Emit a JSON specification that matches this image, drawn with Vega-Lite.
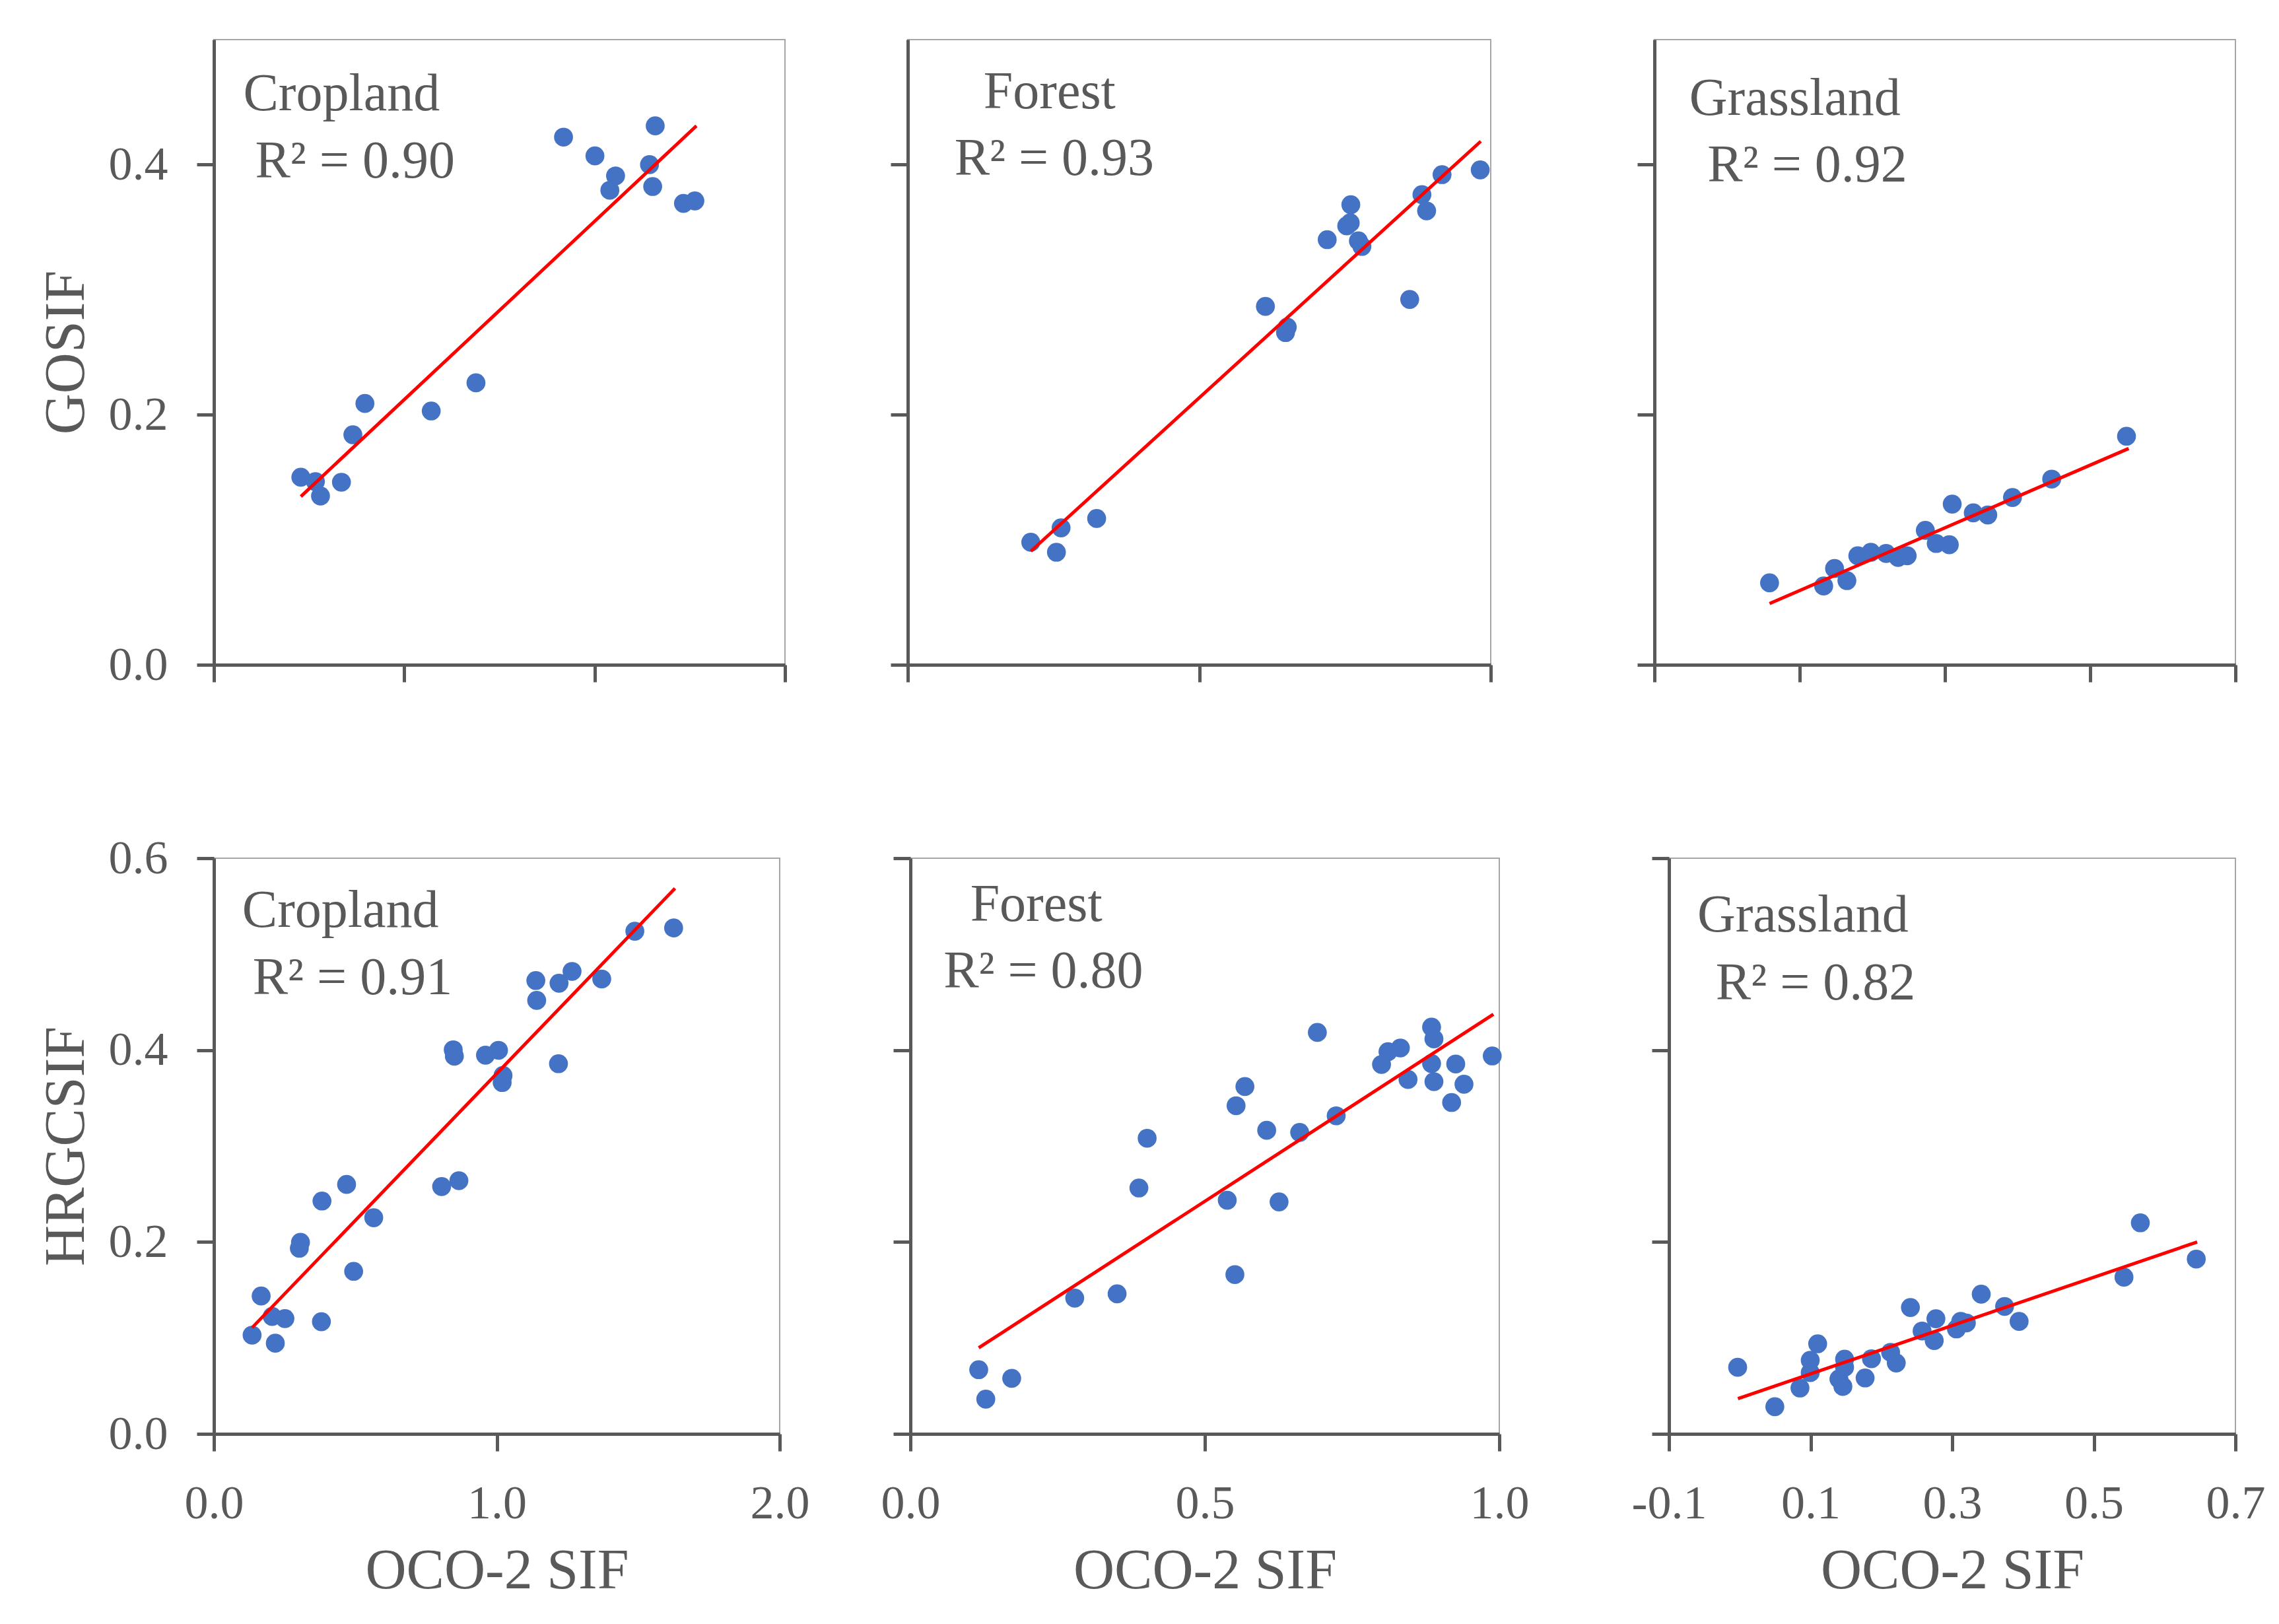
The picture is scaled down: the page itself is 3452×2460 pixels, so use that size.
{
  "$schema": "https://vega.github.io/schema/vega-lite/v6.json",
  "background": "white",
  "padding": {"left": 56, "top": 59, "right": 25, "bottom": 40},
  "config": {
    "view": {"stroke": "#A6A6A6", "strokeWidth": 2},
    "axis": {"domainColor": "#595959", "domainWidth": 5, "tickColor": "#595959", "tickWidth": 5, "tickSize": 26, "grid": false,
      "labelFont": "Liberation Serif", "labelFontSize": 72, "labelColor": "#595959",
      "titleFont": "Liberation Serif", "titleFontSize": 86, "titleColor": "#595959", "titleFontWeight": "normal",
      "labelFlush": false, "labelOverlap": false},
    "axisX": {"labelPadding": 44, "titlePadding": 24},
    "axisY": {"labelPadding": 44, "titlePadding": 20}
  },
  "datasets": {
    "pts": [
      {"panel":"TL","x":0.274,"y":0.150},{"panel":"TL","x":0.320,"y":0.1465},{"panel":"TL","x":0.336,"y":0.135},{"panel":"TL","x":0.402,"y":0.146},{"panel":"TL","x":0.438,"y":0.184},{"panel":"TL","x":0.476,"y":0.209},{"panel":"TL","x":0.685,"y":0.203},{"panel":"TL","x":0.826,"y":0.2255},{"panel":"TL","x":1.102,"y":0.422},{"panel":"TL","x":1.201,"y":0.407},{"panel":"TL","x":1.266,"y":0.391},{"panel":"TL","x":1.248,"y":0.3795},{"panel":"TL","x":1.373,"y":0.400},{"panel":"TL","x":1.383,"y":0.3825},{"panel":"TL","x":1.391,"y":0.431},{"panel":"TL","x":1.480,"y":0.369},{"panel":"TL","x":1.516,"y":0.371},
      {"panel":"TM","x":0.211,"y":0.098},{"panel":"TM","x":0.263,"y":0.1095},{"panel":"TM","x":0.255,"y":0.090},{"panel":"TM","x":0.324,"y":0.117},{"panel":"TM","x":0.6135,"y":0.2866},{"panel":"TM","x":0.651,"y":0.270},{"panel":"TM","x":0.648,"y":0.2657},{"panel":"TM","x":0.7195,"y":0.340},{"panel":"TM","x":0.753,"y":0.351},{"panel":"TM","x":0.759,"y":0.3534},{"panel":"TM","x":0.760,"y":0.368},{"panel":"TM","x":0.773,"y":0.339},{"panel":"TM","x":0.779,"y":0.3346},{"panel":"TM","x":0.861,"y":0.2922},{"panel":"TM","x":0.882,"y":0.376},{"panel":"TM","x":0.890,"y":0.363},{"panel":"TM","x":0.9165,"y":0.392},{"panel":"TM","x":0.982,"y":0.3958},
      {"panel":"TR","x":0.0585,"y":0.0655},{"panel":"TR","x":0.133,"y":0.063},{"panel":"TR","x":0.148,"y":0.077},{"panel":"TR","x":0.165,"y":0.0673},{"panel":"TR","x":0.180,"y":0.0872},{"panel":"TR","x":0.198,"y":0.090},{"panel":"TR","x":0.219,"y":0.089},{"panel":"TR","x":0.2355,"y":0.0858},{"panel":"TR","x":0.248,"y":0.0872},{"panel":"TR","x":0.273,"y":0.1075},{"panel":"TR","x":0.288,"y":0.097},{"panel":"TR","x":0.306,"y":0.096},{"panel":"TR","x":0.310,"y":0.1285},{"panel":"TR","x":0.339,"y":0.1215},{"panel":"TR","x":0.359,"y":0.1198},{"panel":"TR","x":0.393,"y":0.1338},{"panel":"TR","x":0.447,"y":0.1485},{"panel":"TR","x":0.550,"y":0.1828},
      {"panel":"BL","x":0.135,"y":0.1029},{"panel":"BL","x":0.167,"y":0.1437},{"panel":"BL","x":0.206,"y":0.1224},{"panel":"BL","x":0.217,"y":0.0945},{"panel":"BL","x":0.251,"y":0.1202},{"panel":"BL","x":0.302,"y":0.1935},{"panel":"BL","x":0.306,"y":0.1996},{"panel":"BL","x":0.380,"y":0.1169},{"panel":"BL","x":0.382,"y":0.2427},{"panel":"BL","x":0.469,"y":0.260},{"panel":"BL","x":0.494,"y":0.1694},{"panel":"BL","x":0.565,"y":0.2253},{"panel":"BL","x":0.805,"y":0.2578},{"panel":"BL","x":0.866,"y":0.2639},{"panel":"BL","x":0.846,"y":0.4003},{"panel":"BL","x":0.850,"y":0.3936},{"panel":"BL","x":0.960,"y":0.3947},{"panel":"BL","x":1.006,"y":0.3998},{"panel":"BL","x":1.022,"y":0.3735},{"panel":"BL","x":1.019,"y":0.3662},{"panel":"BL","x":1.138,"y":0.4725},{"panel":"BL","x":1.141,"y":0.4518},{"panel":"BL","x":1.220,"y":0.4697},{"panel":"BL","x":1.266,"y":0.482},{"panel":"BL","x":1.218,"y":0.3858},{"panel":"BL","x":1.371,"y":0.4741},{"panel":"BL","x":1.488,"y":0.5239},{"panel":"BL","x":1.625,"y":0.5273},
      {"panel":"BM","x":0.116,"y":0.0669},{"panel":"BM","x":0.128,"y":0.0362},{"panel":"BM","x":0.172,"y":0.0579},{"panel":"BM","x":0.279,"y":0.1415},{"panel":"BM","x":0.351,"y":0.146},{"panel":"BM","x":0.388,"y":0.2563},{"panel":"BM","x":0.402,"y":0.3081},{"panel":"BM","x":0.538,"y":0.2435},{"panel":"BM","x":0.551,"y":0.166},{"panel":"BM","x":0.553,"y":0.342},{"panel":"BM","x":0.568,"y":0.362},{"panel":"BM","x":0.605,"y":0.3164},{"panel":"BM","x":0.626,"y":0.2418},{"panel":"BM","x":0.661,"y":0.3142},{"panel":"BM","x":0.691,"y":0.4184},{"panel":"BM","x":0.723,"y":0.3315},{"panel":"BM","x":0.800,"y":0.385},{"panel":"BM","x":0.811,"y":0.3983},{"panel":"BM","x":0.832,"y":0.4022},{"panel":"BM","x":0.845,"y":0.3694},{"panel":"BM","x":0.885,"y":0.424},{"panel":"BM","x":0.889,"y":0.4117},{"panel":"BM","x":0.885,"y":0.386},{"panel":"BM","x":0.889,"y":0.3671},{"panel":"BM","x":0.919,"y":0.3454},{"panel":"BM","x":0.926,"y":0.3855},{"panel":"BM","x":0.940,"y":0.3644},{"panel":"BM","x":0.988,"y":0.3939},
      {"panel":"BR","x":-0.003,"y":0.0694},{"panel":"BR","x":0.0495,"y":0.0283},{"panel":"BR","x":0.085,"y":0.0478},{"panel":"BR","x":0.0995,"y":0.0767},{"panel":"BR","x":0.0995,"y":0.0639},{"panel":"BR","x":0.110,"y":0.0939},{"panel":"BR","x":0.140,"y":0.0572},{"panel":"BR","x":0.1456,"y":0.0494},{"panel":"BR","x":0.148,"y":0.0778},{"panel":"BR","x":0.148,"y":0.0694},{"panel":"BR","x":0.177,"y":0.0583},{"panel":"BR","x":0.186,"y":0.0783},{"panel":"BR","x":0.213,"y":0.085},{"panel":"BR","x":0.221,"y":0.0739},{"panel":"BR","x":0.241,"y":0.1317},{"panel":"BR","x":0.2575,"y":0.1072},{"panel":"BR","x":0.2746,"y":0.0972},{"panel":"BR","x":0.277,"y":0.12},{"panel":"BR","x":0.306,"y":0.1094},{"panel":"BR","x":0.312,"y":0.1172},{"panel":"BR","x":0.320,"y":0.1156},{"panel":"BR","x":0.341,"y":0.1456},{"panel":"BR","x":0.374,"y":0.1328},{"panel":"BR","x":0.3945,"y":0.1172},{"panel":"BR","x":0.5426,"y":0.1633},{"panel":"BR","x":0.5657,"y":0.22},{"panel":"BR","x":0.6447,"y":0.1822}
    ],
    "fits": [
      {"panel":"TL","x":0.274,"y":0.1346},{"panel":"TL","x":1.521,"y":0.431},
      {"panel":"TM","x":0.211,"y":0.0908},{"panel":"TM","x":0.983,"y":0.4187},
      {"panel":"TR","x":0.0585,"y":0.049},{"panel":"TR","x":0.553,"y":0.173},
      {"panel":"BL","x":0.135,"y":0.1107},{"panel":"BL","x":1.630,"y":0.5686},
      {"panel":"BM","x":0.116,"y":0.0897},{"panel":"BM","x":0.990,"y":0.4373},
      {"panel":"BR","x":-0.0026,"y":0.0367},{"panel":"BR","x":0.646,"y":0.200}
    ]
  },
  "spacing": 219,
  "vconcat": [
    {
      "bounds": "flush",
      "spacing": 186,
      "hconcat": [
        {
          "width": 865, "height": 947,
          "layer": [
            {"data": {"name": "pts"}, "transform": [{"filter": "datum.panel == 'TL'"}], "mark": {"type": "circle", "size": 820, "color": "#4472C4", "opacity": 1},
             "encoding": {
               "x": {"field": "x", "type": "quantitative", "scale": {"domain": [0, 1.8], "nice": false, "zero": false}, "axis": {"values": [0, 0.6, 1.2, 1.8], "labels": false, "title": null}},
               "y": {"field": "y", "type": "quantitative", "scale": {"domain": [0, 0.5], "nice": false}, "axis": {"values": [0, 0.2, 0.4], "format": ".1f", "title": "GOSIF"}}}},
            {"data": {"name": "fits"}, "transform": [{"filter": "datum.panel == 'TL'"}], "mark": {"type": "line", "color": "#FF0000", "strokeWidth": 5},
             "encoding": {
               "x": {"field": "x", "type": "quantitative", "axis": {"values": [0, 0.6, 1.2, 1.8], "labels": false, "title": null}},
               "y": {"field": "y", "type": "quantitative", "axis": {"values": [0, 0.2, 0.4], "format": ".1f", "title": "GOSIF"}}}},
            {"data": {"values": [{"label": "Cropland"}, {"label": "R² = 0.90"}]}, "transform": [{"filter": "datum.label == 'Cropland'"}],
             "mark": {"type": "text", "font": "Liberation Serif", "fontSize": 80, "color": "#595959", "align": "left", "baseline": "alphabetic"},
             "encoding": {
               "x": {"datum": 0.0925, "type": "quantitative", "axis": {"values": [0, 0.6, 1.2, 1.8], "labels": false, "title": null}},
               "y": {"datum": 0.4435, "type": "quantitative", "axis": {"values": [0, 0.2, 0.4], "format": ".1f", "title": "GOSIF"}},
               "text": {"field": "label"}}},
            {"data": {"values": [{"label": "Cropland"}, {"label": "R² = 0.90"}]}, "transform": [{"filter": "datum.label != 'Cropland'"}],
             "mark": {"type": "text", "font": "Liberation Serif", "fontSize": 80, "color": "#595959", "align": "left", "baseline": "alphabetic"},
             "encoding": {
               "x": {"datum": 0.13, "type": "quantitative", "axis": {"values": [0, 0.6, 1.2, 1.8], "labels": false, "title": null}},
               "y": {"datum": 0.3896, "type": "quantitative", "axis": {"values": [0, 0.2, 0.4], "format": ".1f", "title": "GOSIF"}},
               "text": {"field": "label"}}}
          ]
        },
        {
          "bounds": "flush",
          "spacing": 248,
          "hconcat": [
            {
              "width": 883, "height": 947,
              "layer": [
                {"data": {"name": "pts"}, "transform": [{"filter": "datum.panel == 'TM'"}], "mark": {"type": "circle", "size": 820, "color": "#4472C4", "opacity": 1},
                 "encoding": {
                   "x": {"field": "x", "type": "quantitative", "scale": {"domain": [0, 1], "nice": false, "zero": false}, "axis": {"values": [0, 0.5, 1], "labels": false, "title": null}},
                   "y": {"field": "y", "type": "quantitative", "scale": {"domain": [0, 0.5], "nice": false}, "axis": {"values": [0, 0.2, 0.4], "labels": false, "title": null}}}},
                {"data": {"name": "fits"}, "transform": [{"filter": "datum.panel == 'TM'"}], "mark": {"type": "line", "color": "#FF0000", "strokeWidth": 5},
                 "encoding": {
                   "x": {"field": "x", "type": "quantitative", "axis": {"values": [0, 0.5, 1], "labels": false, "title": null}},
                   "y": {"field": "y", "type": "quantitative", "axis": {"values": [0, 0.2, 0.4], "labels": false, "title": null}}}},
                {"data": {"values": [{"label": "Forest"}, {"label": "R² = 0.93"}]}, "transform": [{"filter": "datum.label == 'Forest'"}],
                 "mark": {"type": "text", "font": "Liberation Serif", "fontSize": 80, "color": "#595959", "align": "left", "baseline": "alphabetic"},
                 "encoding": {
                   "x": {"datum": 0.130, "type": "quantitative", "axis": {"values": [0, 0.5, 1], "labels": false, "title": null}},
                   "y": {"datum": 0.4449, "type": "quantitative", "axis": {"values": [0, 0.2, 0.4], "labels": false, "title": null}},
                   "text": {"field": "label"}}},
                {"data": {"values": [{"label": "Forest"}, {"label": "R² = 0.93"}]}, "transform": [{"filter": "datum.label != 'Forest'"}],
                 "mark": {"type": "text", "font": "Liberation Serif", "fontSize": 80, "color": "#595959", "align": "left", "baseline": "alphabetic"},
                 "encoding": {
                   "x": {"datum": 0.0800, "type": "quantitative", "axis": {"values": [0, 0.5, 1], "labels": false, "title": null}},
                   "y": {"datum": 0.3919, "type": "quantitative", "axis": {"values": [0, 0.2, 0.4], "labels": false, "title": null}},
                   "text": {"field": "label"}}}
              ]
            },
            {
              "width": 880, "height": 947,
              "layer": [
                {"data": {"name": "pts"}, "transform": [{"filter": "datum.panel == 'TR'"}], "mark": {"type": "circle", "size": 820, "color": "#4472C4", "opacity": 1},
                 "encoding": {
                   "x": {"field": "x", "type": "quantitative", "scale": {"domain": [-0.1, 0.7], "nice": false, "zero": false}, "axis": {"values": [-0.1, 0.1, 0.3, 0.5, 0.7], "labels": false, "title": null}},
                   "y": {"field": "y", "type": "quantitative", "scale": {"domain": [0, 0.5], "nice": false}, "axis": {"values": [0, 0.2, 0.4], "labels": false, "title": null}}}},
                {"data": {"name": "fits"}, "transform": [{"filter": "datum.panel == 'TR'"}], "mark": {"type": "line", "color": "#FF0000", "strokeWidth": 5},
                 "encoding": {
                   "x": {"field": "x", "type": "quantitative", "axis": {"values": [-0.1, 0.1, 0.3, 0.5, 0.7], "labels": false, "title": null}},
                   "y": {"field": "y", "type": "quantitative", "axis": {"values": [0, 0.2, 0.4], "labels": false, "title": null}}}},
                {"data": {"values": [{"label": "Grassland"}, {"label": "R² = 0.92"}]}, "transform": [{"filter": "datum.label == 'Grassland'"}],
                 "mark": {"type": "text", "font": "Liberation Serif", "fontSize": 80, "color": "#595959", "align": "left", "baseline": "alphabetic"},
                 "encoding": {
                   "x": {"datum": -0.052, "type": "quantitative", "axis": {"values": [-0.1, 0.1, 0.3, 0.5, 0.7], "labels": false, "title": null}},
                   "y": {"datum": 0.4396, "type": "quantitative", "axis": {"values": [0, 0.2, 0.4], "labels": false, "title": null}},
                   "text": {"field": "label"}}},
                {"data": {"values": [{"label": "Grassland"}, {"label": "R² = 0.92"}]}, "transform": [{"filter": "datum.label != 'Grassland'"}],
                 "mark": {"type": "text", "font": "Liberation Serif", "fontSize": 80, "color": "#595959", "align": "left", "baseline": "alphabetic"},
                 "encoding": {
                   "x": {"datum": -0.027, "type": "quantitative", "axis": {"values": [-0.1, 0.1, 0.3, 0.5, 0.7], "labels": false, "title": null}},
                   "y": {"datum": 0.3867, "type": "quantitative", "axis": {"values": [0, 0.2, 0.4], "labels": false, "title": null}},
                   "text": {"field": "label"}}}
              ]
            }
          ]
        }
      ]
    },
    {
      "bounds": "flush",
      "spacing": 198,
      "hconcat": [
        {
          "width": 857, "height": 872,
          "layer": [
            {"data": {"name": "pts"}, "transform": [{"filter": "datum.panel == 'BL'"}], "mark": {"type": "circle", "size": 820, "color": "#4472C4", "opacity": 1},
             "encoding": {
               "x": {"field": "x", "type": "quantitative", "scale": {"domain": [0, 2], "nice": false, "zero": false}, "axis": {"values": [0, 1, 2], "format": ".1f", "title": "OCO-2 SIF"}},
               "y": {"field": "y", "type": "quantitative", "scale": {"domain": [0, 0.6], "nice": false}, "axis": {"values": [0, 0.2, 0.4, 0.6], "format": ".1f", "title": "HRGCSIF"}}}},
            {"data": {"name": "fits"}, "transform": [{"filter": "datum.panel == 'BL'"}], "mark": {"type": "line", "color": "#FF0000", "strokeWidth": 5},
             "encoding": {
               "x": {"field": "x", "type": "quantitative", "axis": {"values": [0, 1, 2], "format": ".1f", "title": "OCO-2 SIF"}},
               "y": {"field": "y", "type": "quantitative", "axis": {"values": [0, 0.2, 0.4, 0.6], "format": ".1f", "title": "HRGCSIF"}}}},
            {"data": {"values": [{"label": "Cropland"}, {"label": "R² = 0.91"}]}, "transform": [{"filter": "datum.label == 'Cropland'"}],
             "mark": {"type": "text", "font": "Liberation Serif", "fontSize": 80, "color": "#595959", "align": "left", "baseline": "alphabetic"},
             "encoding": {
               "x": {"datum": 0.100, "type": "quantitative", "axis": {"values": [0, 1, 2], "format": ".1f", "title": "OCO-2 SIF"}},
               "y": {"datum": 0.5284, "type": "quantitative", "axis": {"values": [0, 0.2, 0.4, 0.6], "format": ".1f", "title": "HRGCSIF"}},
               "text": {"field": "label"}}},
            {"data": {"values": [{"label": "Cropland"}, {"label": "R² = 0.91"}]}, "transform": [{"filter": "datum.label != 'Cropland'"}],
             "mark": {"type": "text", "font": "Liberation Serif", "fontSize": 80, "color": "#595959", "align": "left", "baseline": "alphabetic"},
             "encoding": {
               "x": {"datum": 0.137, "type": "quantitative", "axis": {"values": [0, 1, 2], "format": ".1f", "title": "OCO-2 SIF"}},
               "y": {"datum": 0.4585, "type": "quantitative", "axis": {"values": [0, 0.2, 0.4, 0.6], "format": ".1f", "title": "HRGCSIF"}},
               "text": {"field": "label"}}}
          ]
        },
        {
          "bounds": "flush",
          "spacing": 257,
          "hconcat": [
            {
              "width": 892, "height": 872,
              "layer": [
                {"data": {"name": "pts"}, "transform": [{"filter": "datum.panel == 'BM'"}], "mark": {"type": "circle", "size": 820, "color": "#4472C4", "opacity": 1},
                 "encoding": {
                   "x": {"field": "x", "type": "quantitative", "scale": {"domain": [0, 1], "nice": false, "zero": false}, "axis": {"values": [0, 0.5, 1], "format": ".1f", "title": "OCO-2 SIF"}},
                   "y": {"field": "y", "type": "quantitative", "scale": {"domain": [0, 0.6], "nice": false}, "axis": {"values": [0, 0.2, 0.4, 0.6], "labels": false, "title": null}}}},
                {"data": {"name": "fits"}, "transform": [{"filter": "datum.panel == 'BM'"}], "mark": {"type": "line", "color": "#FF0000", "strokeWidth": 5},
                 "encoding": {
                   "x": {"field": "x", "type": "quantitative", "axis": {"values": [0, 0.5, 1], "format": ".1f", "title": "OCO-2 SIF"}},
                   "y": {"field": "y", "type": "quantitative", "axis": {"values": [0, 0.2, 0.4, 0.6], "labels": false, "title": null}}}},
                {"data": {"values": [{"label": "Forest"}, {"label": "R² = 0.80"}]}, "transform": [{"filter": "datum.label == 'Forest'"}],
                 "mark": {"type": "text", "font": "Liberation Serif", "fontSize": 80, "color": "#595959", "align": "left", "baseline": "alphabetic"},
                 "encoding": {
                   "x": {"datum": 0.1016, "type": "quantitative", "axis": {"values": [0, 0.5, 1], "format": ".1f", "title": "OCO-2 SIF"}},
                   "y": {"datum": 0.5348, "type": "quantitative", "axis": {"values": [0, 0.2, 0.4, 0.6], "labels": false, "title": null}},
                   "text": {"field": "label"}}},
                {"data": {"values": [{"label": "Forest"}, {"label": "R² = 0.80"}]}, "transform": [{"filter": "datum.label != 'Forest'"}],
                 "mark": {"type": "text", "font": "Liberation Serif", "fontSize": 80, "color": "#595959", "align": "left", "baseline": "alphabetic"},
                 "encoding": {
                   "x": {"datum": 0.0562, "type": "quantitative", "axis": {"values": [0, 0.5, 1], "format": ".1f", "title": "OCO-2 SIF"}},
                   "y": {"datum": 0.4652, "type": "quantitative", "axis": {"values": [0, 0.2, 0.4, 0.6], "labels": false, "title": null}},
                   "text": {"field": "label"}}}
              ]
            },
            {
              "width": 858, "height": 872,
              "layer": [
                {"data": {"name": "pts"}, "transform": [{"filter": "datum.panel == 'BR'"}], "mark": {"type": "circle", "size": 820, "color": "#4472C4", "opacity": 1},
                 "encoding": {
                   "x": {"field": "x", "type": "quantitative", "scale": {"domain": [-0.1, 0.7], "nice": false, "zero": false}, "axis": {"values": [-0.1, 0.1, 0.3, 0.5, 0.7], "labelExpr": "datum.value < 0 ? '-' + format(-datum.value, '.1f') : format(datum.value, '.1f')", "title": "OCO-2 SIF"}},
                   "y": {"field": "y", "type": "quantitative", "scale": {"domain": [0, 0.6], "nice": false}, "axis": {"values": [0, 0.2, 0.4, 0.6], "labels": false, "title": null}}}},
                {"data": {"name": "fits"}, "transform": [{"filter": "datum.panel == 'BR'"}], "mark": {"type": "line", "color": "#FF0000", "strokeWidth": 5},
                 "encoding": {
                   "x": {"field": "x", "type": "quantitative", "axis": {"values": [-0.1, 0.1, 0.3, 0.5, 0.7], "labelExpr": "datum.value < 0 ? '-' + format(-datum.value, '.1f') : format(datum.value, '.1f')", "title": "OCO-2 SIF"}},
                   "y": {"field": "y", "type": "quantitative", "axis": {"values": [0, 0.2, 0.4, 0.6], "labels": false, "title": null}}}},
                {"data": {"values": [{"label": "Grassland"}, {"label": "R² = 0.82"}]}, "transform": [{"filter": "datum.label == 'Grassland'"}],
                 "mark": {"type": "text", "font": "Liberation Serif", "fontSize": 80, "color": "#595959", "align": "left", "baseline": "alphabetic"},
                 "encoding": {
                   "x": {"datum": -0.060, "type": "quantitative", "axis": {"values": [-0.1, 0.1, 0.3, 0.5, 0.7], "labelExpr": "datum.value < 0 ? '-' + format(-datum.value, '.1f') : format(datum.value, '.1f')", "title": "OCO-2 SIF"}},
                   "y": {"datum": 0.5239, "type": "quantitative", "axis": {"values": [0, 0.2, 0.4, 0.6], "labels": false, "title": null}},
                   "text": {"field": "label"}}},
                {"data": {"values": [{"label": "Grassland"}, {"label": "R² = 0.82"}]}, "transform": [{"filter": "datum.label != 'Grassland'"}],
                 "mark": {"type": "text", "font": "Liberation Serif", "fontSize": 80, "color": "#595959", "align": "left", "baseline": "alphabetic"},
                 "encoding": {
                   "x": {"datum": -0.034, "type": "quantitative", "axis": {"values": [-0.1, 0.1, 0.3, 0.5, 0.7], "labelExpr": "datum.value < 0 ? '-' + format(-datum.value, '.1f') : format(datum.value, '.1f')", "title": "OCO-2 SIF"}},
                   "y": {"datum": 0.4528, "type": "quantitative", "axis": {"values": [0, 0.2, 0.4, 0.6], "labels": false, "title": null}},
                   "text": {"field": "label"}}}
              ]
            }
          ]
        }
      ]
    }
  ]
}
